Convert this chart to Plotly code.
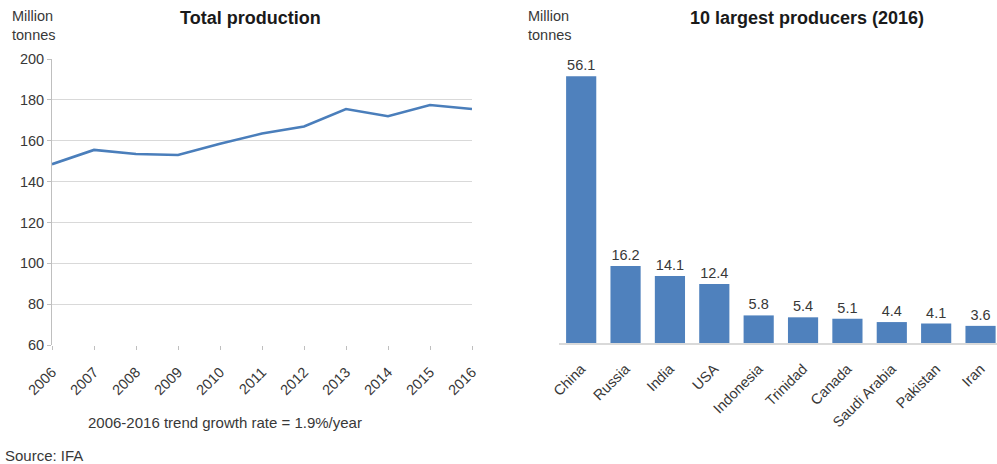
import plotly.graph_objects as go

years = [2006, 2007, 2008, 2009, 2010, 2011, 2012, 2013, 2014, 2015, 2016]
production = [148.5, 155.5, 153.5, 153.0, 158.5, 163.5, 167.0, 175.5, 172.0, 177.5, 175.5]

countries = ["China", "Russia", "India", "USA", "Indonesia", "Trinidad", "Canada",
             "Saudi Arabia", "Pakistan", "Iran"]
output_2016 = [56.1, 16.2, 14.1, 12.4, 5.8, 5.4, 5.1, 4.4, 4.1, 3.6]

y_ticks = [60, 80, 100, 120, 140, 160, 180, 200]

FONT = "Arial, Liberation Sans, sans-serif"
TXT = "#383838"
GRID = "#d9d9d9"
BLUE = "#4f81bd"
W, H = 997, 464
FS = 14.5

def px_x(p):
    return p / W

def px_y(p):
    return 1 - p / H

fig = go.Figure()

fig.add_trace(go.Scatter(
    x=years, y=production, mode="lines",
    line=dict(color="#4a7ebb", width=2.6),
    xaxis="x", yaxis="y", showlegend=False,
))

fig.add_trace(go.Bar(
    x=countries, y=output_2016,
    marker=dict(color=BLUE, line=dict(width=0)),
    text=[f"{v:.1f}" for v in output_2016],
    textposition="outside", cliponaxis=False,
    textfont=dict(family=FONT, size=FS, color=TXT),
    xaxis="x2", yaxis="y2", showlegend=False,
))

fig.update_layout(
    width=W, height=H,
    margin=dict(l=0, r=0, t=0, b=0, autoexpand=False),
    paper_bgcolor="white", plot_bgcolor="white",
    font=dict(family=FONT, size=FS, color=TXT),
    bargap=0.32,
    xaxis=dict(
        domain=[px_x(52), px_x(472)], anchor="y", automargin=False,
        range=[2006, 2016], tickmode="array", tickvals=years,
        ticktext=[str(y) for y in years], tickangle=-45,
        showgrid=False, zeroline=False, showline=False,
        ticks="outside", ticklen=4, tickcolor="#bfbfbf",
        ticklabelstandoff=8,
        tickfont=dict(size=FS, color=TXT),
    ),
    yaxis=dict(
        domain=[px_y(345), px_y(59)], anchor="x", automargin=False,
        range=[60, 200], tickmode="array", tickvals=y_ticks,
        showgrid=True, gridcolor=GRID, gridwidth=1,
        zeroline=False, showline=True, linecolor="#bfbfbf", linewidth=1,
        ticks="outside", ticklen=4, tickcolor="#bfbfbf",
        tickfont=dict(size=FS, color=TXT),
    ),
    xaxis2=dict(
        domain=[px_x(559), 1.0], anchor="y2", automargin=False,
        range=[-0.5, 9.371], tickangle=-45,
        showgrid=False, zeroline=False,
        showline=True, linecolor=GRID, linewidth=1.5,
        ticks="", ticklabelstandoff=10,
        tickfont=dict(size=FS, color=TXT),
    ),
    yaxis2=dict(
        domain=[px_y(343), px_y(59)], anchor="x2", automargin=False,
        range=[0, 59.7], visible=False,
    ),
    annotations=[
        dict(text="<b>Total production</b>", x=px_x(250), y=px_y(18),
             xref="paper", yref="paper", showarrow=False,
             font=dict(size=18, color="#1a1a1a"), xanchor="center", yanchor="middle"),
        dict(text="<b>10 largest producers (2016)</b>", x=px_x(807), y=px_y(18),
             xref="paper", yref="paper", showarrow=False,
             font=dict(size=18, color="#1a1a1a"), xanchor="center", yanchor="middle"),
        dict(text="Million<br>tonnes", x=px_x(10), y=px_y(6),
             xref="paper", yref="paper", showarrow=False, align="left",
             font=dict(size=FS, color=TXT), xanchor="left", yanchor="top"),
        dict(text="Million<br>tonnes", x=px_x(526), y=px_y(6),
             xref="paper", yref="paper", showarrow=False, align="left",
             font=dict(size=FS, color=TXT), xanchor="left", yanchor="top"),
        dict(text="2006-2016 trend growth rate = 1.9%/year", x=px_x(225), y=px_y(422),
             xref="paper", yref="paper", showarrow=False,
             font=dict(size=15, color=TXT), xanchor="center", yanchor="middle"),
        dict(text="Source: IFA", x=px_x(3), y=px_y(455),
             xref="paper", yref="paper", showarrow=False,
             font=dict(size=15, color=TXT), xanchor="left", yanchor="middle"),
    ],
)

fig.write_html("out.html", config={"displayModeBar": False},
               post_script="document.body.style.margin='0';")
